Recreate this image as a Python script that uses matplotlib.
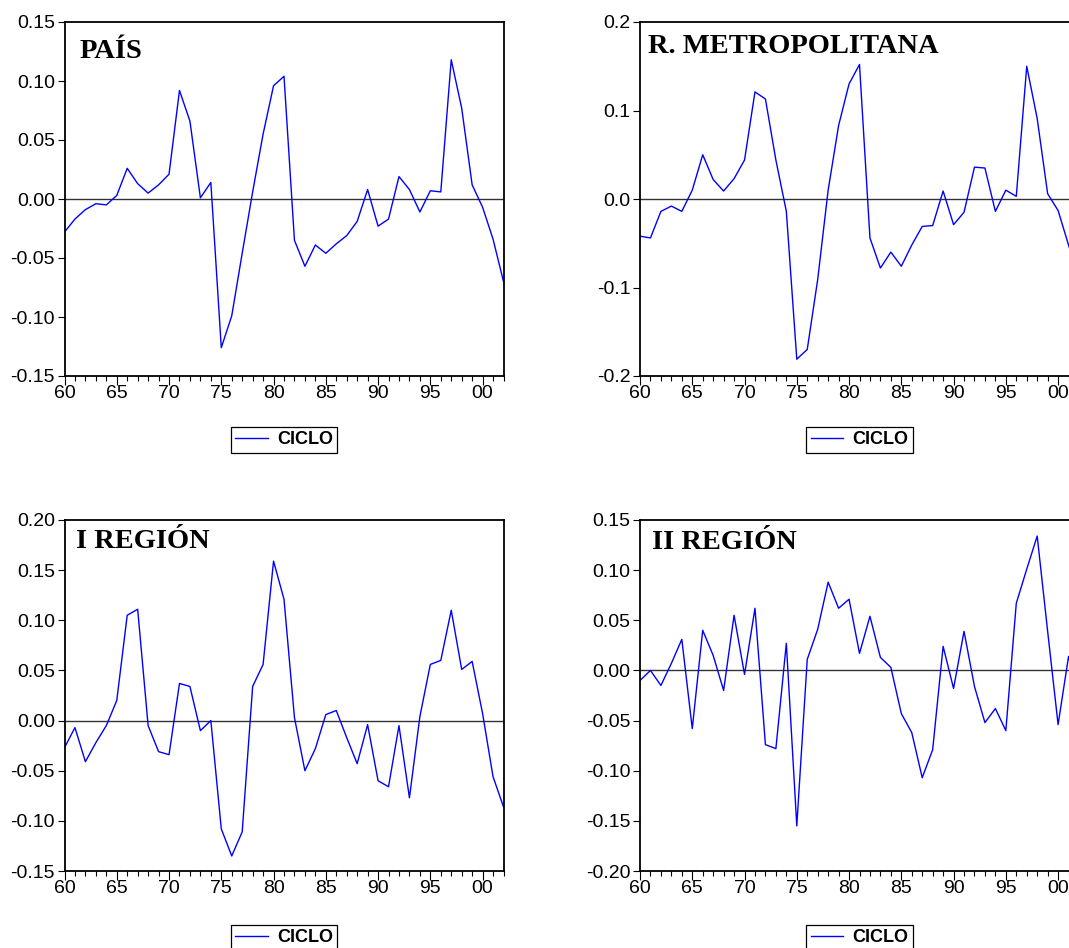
import numpy as np
import matplotlib.pyplot as plt
from matplotlib.ticker import MultipleLocator, FixedLocator
from matplotlib.lines import Line2D

years = list(range(1960, 2003))

pais = [-0.028, -0.017, -0.009, -0.004, -0.005, 0.003, 0.026, 0.013, 0.005, 0.012,
        0.021, 0.092, 0.066, 0.001, 0.014, -0.126, -0.099, -0.046, 0.006, 0.055,
        0.096, 0.104, -0.035, -0.057, -0.039, -0.046, -0.038, -0.031, -0.019, 0.008,
        -0.023, -0.017, 0.019, 0.008, -0.011, 0.007, 0.006, 0.118, 0.077, 0.012,
        -0.007, -0.034, -0.070]

metro = [-0.042, -0.044, -0.014, -0.008, -0.014, 0.010, 0.050, 0.022, 0.009, 0.023,
         0.044, 0.121, 0.113, 0.044, -0.014, -0.181, -0.170, -0.091, 0.010, 0.083,
         0.130, 0.152, -0.044, -0.078, -0.060, -0.076, -0.052, -0.031, -0.030, 0.009,
         -0.029, -0.015, 0.036, 0.035, -0.014, 0.010, 0.003, 0.150, 0.091, 0.006,
         -0.013, -0.052, -0.090]

region1 = [-0.027, -0.007, -0.041, -0.022, -0.005, 0.020, 0.105, 0.111, -0.005, -0.031,
           -0.034, 0.037, 0.034, -0.010, 0.000, -0.108, -0.135, -0.111, 0.034, 0.056,
           0.159, 0.121, 0.003, -0.050, -0.028, 0.006, 0.010, -0.017, -0.043, -0.004,
           -0.060, -0.066, -0.005, -0.077, 0.004, 0.056, 0.060, 0.110, 0.051, 0.059,
           0.007, -0.056, -0.086]

region2 = [-0.010, 0.000, -0.015, 0.007, 0.031, -0.058, 0.040, 0.015, -0.020, 0.055,
           -0.004, 0.062, -0.074, -0.078, 0.027, -0.155, 0.011, 0.041, 0.088, 0.062,
           0.071, 0.017, 0.054, 0.013, 0.003, -0.043, -0.062, -0.107, -0.079, 0.024,
           -0.018, 0.039, -0.016, -0.052, -0.038, -0.060, 0.067, 0.101, 0.134, 0.039,
           -0.054, 0.014, -0.030]

titles = ["PAÍS", "R. METROPOLITANA", "I REGIÓN", "II REGIÓN"]
series = [pais, metro, region1, region2]
ylims = [(-0.15, 0.15), (-0.2, 0.2), (-0.15, 0.20), (-0.20, 0.15)]
ysteps = [0.05, 0.1, 0.05, 0.05]
yfmt = ["%.2f", "%.1f", "%.2f", "%.2f"]

W, H = 1069, 948
fig = plt.figure(figsize=(W / 100, H / 100), dpi=100)
plt.rcParams['font.family'] = ['Liberation Sans', 'DejaVu Sans']

# panel boxes in pixels: left, top, right, bottom
boxes = [(64.5, 22, 503.5, 376), (640, 22, 1079, 376),
         (64.5, 520, 503.5, 871), (640, 520, 1079, 871)]
title_pos = [(80, 58), (648, 53), (76, 548), (652, 549)]
legend_y = [440, 938]

for i in range(4):
    l, t, r, b = boxes[i]
    ax = fig.add_axes([l / W, 1 - b / H, (r - l) / W, (b - t) / H])
    ax.plot(years, series[i], color='#0000ff', lw=1.0)
    ax.axhline(0, color='0.2', lw=1.0, zorder=1)
    ax.set_xlim(1960, 2002)
    ax.set_ylim(*ylims[i])
    ax.xaxis.set_major_locator(FixedLocator(list(range(1960, 2001, 5))))
    ax.xaxis.set_minor_locator(MultipleLocator(1))
    ax.set_xticklabels(["%02d" % (y % 100) for y in range(1960, 2001, 5)])
    ax.yaxis.set_major_locator(MultipleLocator(ysteps[i]))
    ax.yaxis.set_major_formatter(plt.FormatStrFormatter(yfmt[i]))
    ax.tick_params(axis='y', direction='out', length=5, width=0.8, labelsize=14, pad=2)
    ax.tick_params(axis='x', which='major', direction='out', length=6.5, width=0.8, labelsize=14, pad=0.3)
    ax.tick_params(axis='x', which='minor', direction='out', length=3.6, width=0.8)
    ax.tick_params(right=False, top=False)
    for s in ax.spines.values():
        s.set_linewidth(1.3)
    tx, ty = title_pos[i]
    fig.text(tx / W, 1 - ty / H, titles[i], fontsize=20.5, fontweight='bold',
             family=['Liberation Serif', 'DejaVu Serif'], va='baseline', ha='left')
    h = Line2D([], [], color='#0000ff', lw=1.0)
    leg = fig.legend([h], ["CICLO"], loc='center',
                     bbox_to_anchor=((l + r) / 2 / W, 1 - legend_y[i // 2] / H),
                     prop={'weight': 'bold', 'size': 13}, fancybox=False,
                     handlelength=1.8, handletextpad=0.5, borderpad=0.25,
                     borderaxespad=0, framealpha=1)
    leg.get_frame().set_edgecolor('black')
    leg.get_frame().set_linewidth(0.9)

fig.savefig("out.png", dpi=100)
